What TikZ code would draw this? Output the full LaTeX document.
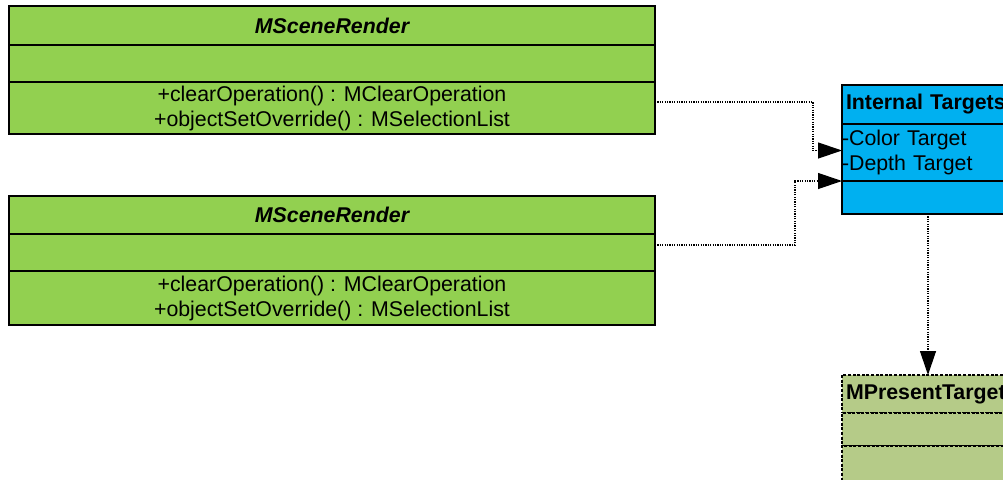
\documentclass[tikz,border=0pt]{standalone}
\usepackage{fontspec}
\setmainfont{Liberation Sans}
\usetikzlibrary{arrows.meta, positioning}
\definecolor{rendergreen}{HTML}{92D050}
\definecolor{targetblue}{HTML}{00B0F0}
\definecolor{presentgreen}{HTML}{B5CB88}
\tikzset{
  compart/.style={draw, rectangle, line width=1.1pt, inner sep=0pt, outer sep=0pt,
    font=\fontsize{16}{18.75}\selectfont},
  render/.style={compart, fill=rendergreen, minimum width=484.5pt, align=center},
  target/.style={compart, fill=targetblue, minimum width=187.5pt, text width=181.5pt, inner xsep=3pt, align=left},
  present/.style={compart, fill=presentgreen, minimum width=187.5pt, text width=181.5pt, inner xsep=3pt, align=left,
    dash pattern=on 2.25pt off 1.2pt},
  dep/.style={line width=0.9pt, dash pattern=on 0.9pt off 0.9pt, -{Triangle[length=18pt,width=12pt]}},
}
\begin{document}
\begin{tikzpicture}[x=0.75pt, y=-0.75pt, node distance=0pt]
    \useasboundingbox (0,0) rectangle (1003,479);
    \clip (0,0) rectangle (1003,479);

    % first scene render
    \node[render, minimum height=29.25pt, anchor=north west, font=\fontsize{16}{18.75}\selectfont\bfseries\itshape] (r1t) at (9,6) {MSceneRender};
    \node[render, minimum height=27.75pt, below=of r1t] (r1e) {};
    \node[render, minimum height=39pt, below=of r1e] (r1m) {+clearOperation() : MClearOperation\\+objectSetOverride() : MSelectionList};

    % second scene render
    \node[render, minimum height=28.5pt, anchor=north west, font=\fontsize{16}{18.75}\selectfont\bfseries\itshape] (r2t) at (9,196) {MSceneRender};
    \node[render, minimum height=27.75pt, below=of r2t] (r2e) {};
    \node[render, minimum height=40.5pt, below=of r2e] (r2m) {+clearOperation() : MClearOperation\\+objectSetOverride() : MSelectionList};

    % internal targets
    \node[target, minimum height=29.25pt, anchor=north west, font=\fontsize{16}{18.75}\selectfont\bfseries] (itt) at (842,85) {Internal Targets};
    \node[target, minimum height=42.75pt, inner xsep=0pt, text width=187.5pt, below=of itt] (ita) {-Color Target\\-Depth Target};
    \node[target, minimum height=24.75pt, below=of ita] (ite) {};

    % present target
    \node[present, minimum height=28.5pt, anchor=north west, font=\fontsize{16}{18.75}\selectfont\bfseries] (mpt) at (842,375) {MPresentTarget};
    \node[present, minimum height=24.75pt, below=of mpt] (mpa) {};
    \node[present, minimum height=36pt, below=of mpa] (mpo) {};

    \draw[dep] ([yshift=4.5pt]r1m.east) -- ++(158,0) |- ([yshift=1.5pt]ita.west);
    \draw[dep] ([yshift=5.6pt]r2e.east) -- ++(140,0) |- (ita.south west);
    \draw[dep] ([xshift=64.5pt]ite.south west) -- ([xshift=64.5pt]mpt.north west);
\end{tikzpicture}
\end{document}
